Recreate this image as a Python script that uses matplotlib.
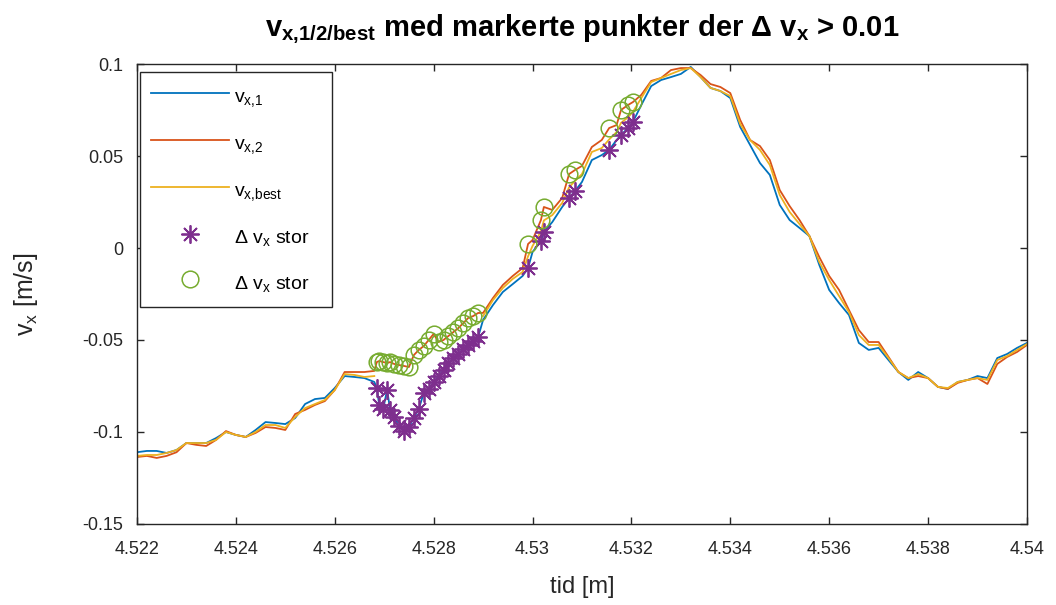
import numpy as np
import matplotlib.pyplot as plt
from matplotlib.ticker import FormatStrFormatter

plt.rcParams['font.family'] = ['Liberation Sans', 'DejaVu Sans']
plt.rcParams['mathtext.fontset'] = 'custom'
plt.rcParams['mathtext.rm'] = 'Liberation Sans'
plt.rcParams['mathtext.it'] = 'Liberation Sans'
plt.rcParams['mathtext.bf'] = 'Liberation Sans:bold'
plt.rcParams['axes.unicode_minus'] = False

# tid [s] og hastigheter vx1, vx2, vx_best
t = np.array([
    4.5220, 4.5222, 4.5224, 4.5226, 4.5228, 4.5230, 4.5232, 4.5234, 4.5236, 4.5238,
    4.5240, 4.5242, 4.5244, 4.5246, 4.5248, 4.5250, 4.5252, 4.5254, 4.5256, 4.5258,
    4.5260, 4.5262, 4.5264, 4.5266, 4.5268,
    4.52685, 4.52690, 4.52698, 4.52706, 4.52712, 4.52720, 4.52730, 4.52740, 4.52750,
    4.52760, 4.52770, 4.52780, 4.52790, 4.52800, 4.52810, 4.52820, 4.52830, 4.52840,
    4.52850, 4.52860, 4.52870, 4.52880, 4.52890,
    4.52900, 4.52920, 4.52940, 4.52960, 4.52980, 4.52991, 4.53000, 4.53017, 4.53023,
    4.53040, 4.53060, 4.53074, 4.53086, 4.53100, 4.53120, 4.53140, 4.53155, 4.53170,
    4.53179, 4.53193, 4.53203, 4.53220,
    4.5324, 4.5326, 4.5328, 4.5330, 4.5332, 4.5334, 4.5336, 4.5338, 4.5340, 4.5342,
    4.5344, 4.5346, 4.5348, 4.5350, 4.5352, 4.5354, 4.5356, 4.5358, 4.5360, 4.5362,
    4.5364, 4.5366, 4.5368, 4.5370, 4.5372, 4.5374, 4.5376, 4.5378, 4.5380, 4.5382,
    4.5384, 4.5386, 4.5388, 4.5390, 4.5392, 4.5394, 4.5396, 4.5398, 4.5400,
])

vx1 = np.array([
    -0.1110, -0.1103, -0.1103, -0.1114, -0.1098, -0.1060, -0.1060, -0.1060, -0.1033, -0.1000,
    -0.1016, -0.1027, -0.0989, -0.0946, -0.0951, -0.0957, -0.0924, -0.0848, -0.0821, -0.0815,
    -0.0761, -0.0696, -0.0701, -0.0707, -0.0728,
    -0.0761, -0.0853, -0.0875, -0.0770, -0.0880, -0.0918, -0.0970, -0.0995, -0.0973,
    -0.0924, -0.0875, -0.0788, -0.0766, -0.0728, -0.0696, -0.0663, -0.0625, -0.0598,
    -0.0576, -0.0549, -0.0527, -0.0505, -0.0484,
    -0.0391, -0.0310, -0.0239, -0.0196, -0.0152, -0.0109, -0.0022, 0.0038, 0.0087,
    0.0141, 0.0223, 0.0272, 0.0310, 0.0359, 0.0478, 0.0505, 0.0533, 0.0587,
    0.0614, 0.0652, 0.0685, 0.0777,
    0.0880, 0.0913, 0.0929, 0.0946, 0.0984, 0.0929, 0.0870, 0.0853, 0.0815, 0.0658,
    0.0560, 0.0462, 0.0397, 0.0234, 0.0152, 0.0109, 0.0065, -0.0092, -0.0228, -0.0299,
    -0.0364, -0.0516, -0.0554, -0.0543, -0.0609, -0.0674, -0.0717, -0.0674, -0.0707, -0.0755,
    -0.0766, -0.0728, -0.0717, -0.0696, -0.0707, -0.0598, -0.0576, -0.0543, -0.0516,
])

vx2 = np.array([
    -0.1136, -0.1130, -0.1141, -0.1130, -0.1110, -0.1060, -0.1070, -0.1076, -0.1043, -0.0995,
    -0.1016, -0.1027, -0.1005, -0.0973, -0.0978, -0.0989, -0.0902, -0.0880, -0.0853, -0.0832,
    -0.0772, -0.0674, -0.0674, -0.0674, -0.0668,
    -0.0620, -0.0614, -0.0620, -0.0625, -0.0620, -0.0630, -0.0636, -0.0641, -0.0647,
    -0.0582, -0.0554, -0.0533, -0.0500, -0.0467, -0.0511, -0.0500, -0.0478, -0.0457,
    -0.0435, -0.0408, -0.0380, -0.0370, -0.0353,
    -0.0353, -0.0272, -0.0201, -0.0152, -0.0109, 0.0022, 0.0043, 0.0152, 0.0223,
    0.0207, 0.0272, 0.0402, 0.0424, 0.0446, 0.0549, 0.0587, 0.0652, 0.0668,
    0.0750, 0.0777, 0.0793, 0.0832,
    0.0908, 0.0924, 0.0967, 0.0978, 0.0978, 0.0940, 0.0891, 0.0875, 0.0842, 0.0696,
    0.0587, 0.0554, 0.0478, 0.0315, 0.0228, 0.0152, 0.0065, -0.0049, -0.0152, -0.0228,
    -0.0337, -0.0446, -0.0511, -0.0511, -0.0592, -0.0674, -0.0707, -0.0696, -0.0707, -0.0755,
    -0.0766, -0.0733, -0.0717, -0.0707, -0.0739, -0.0630, -0.0592, -0.0565, -0.0527,
])

nan = np.nan
vx_best = np.array([
    -0.1130, -0.1125, -0.1125, -0.1114, -0.1098, -0.1060, -0.1060, -0.1060, -0.1043, -0.1000,
    -0.1016, -0.1027, -0.1000, -0.0962, -0.0962, -0.0978, -0.0918, -0.0870, -0.0848, -0.0826,
    -0.0772, -0.0685, -0.0690, -0.0701, -0.0696,
    nan, nan, nan, nan, nan, nan, nan, nan, nan,
    nan, nan, nan, nan, nan, nan, nan, nan, nan,
    nan, nan, nan, nan, nan,
    -0.0370, -0.0283, -0.0217, -0.0168, -0.0130, -0.0045, 0.0011, 0.0090, 0.0150,
    0.0179, 0.0245, 0.0330, 0.0365, 0.0402, 0.0522, 0.0543, 0.0590, 0.0630,
    0.0680, 0.0710, 0.0740, 0.0815,
    0.0902, 0.0924, 0.0946, 0.0967, 0.0978, 0.0929, 0.0870, 0.0853, 0.0826, 0.0674,
    0.0587, 0.0533, 0.0451, 0.0288, 0.0196, 0.0130, 0.0065, -0.0076, -0.0174, -0.0261,
    -0.0348, -0.0473, -0.0527, -0.0527, -0.0598, -0.0674, -0.0707, -0.0685, -0.0707, -0.0755,
    -0.0761, -0.0728, -0.0717, -0.0707, -0.0717, -0.0609, -0.0587, -0.0554, -0.0522,
])

# punkter der forskjellen mellom vx1 og vx2 er stor
stor = np.abs(vx1 - vx2) > 0.01

fig = plt.figure(figsize=(10.56, 6.05), dpi=100)
ax = fig.add_axes([0.1297, 0.1339, 0.8428, 0.7603])

ax.plot(t, vx1, color='#0072BD', lw=1.3, label=r'$\mathrm{v_{x{,}1}}$')
ax.plot(t, vx2, color='#D95319', lw=1.3, label=r'$\mathrm{v_{x{,}2}}$')
ax.plot(t, vx_best, color='#EDB120', lw=1.3, label=r'$\mathrm{v_{x{,}best}}$')
ax.plot(t[stor], vx1[stor], ls='none', marker=(8, 2, 0), ms=13, mew=1.3,
        color='#7E2F8E', label=r'Δ $\mathrm{v_x}$ stor   ')
ax.plot(t[stor], vx2[stor], ls='none', marker='o', ms=12, mew=1.1,
        mfc='none', color='#77AC30', label=r'Δ $\mathrm{v_x}$ stor   ')

ax.set_xlim(4.522, 4.54)
ax.set_ylim(-0.15, 0.1)
ax.set_xticks(np.arange(4.522, 4.5401, 0.002))
ax.set_yticks([-0.15, -0.1, -0.05, 0, 0.05, 0.1])
ax.xaxis.set_major_formatter(FormatStrFormatter('%g'))
ax.yaxis.set_major_formatter(FormatStrFormatter('%g'))

ax.tick_params(direction='in', top=True, right=True, length=5, width=1,
               colors='#262626', labelsize=13)
ax.tick_params(axis='x', pad=12)
ax.tick_params(axis='y', pad=10)
for s in ax.spines.values():
    s.set_color('#262626')
    s.set_linewidth(1)

ax.set_xlabel('tid [m]', fontsize=17, color='#262626', labelpad=13)
ax.set_ylabel(r'$\mathrm{v_x}$ [m/s]', fontsize=18, color='#262626', labelpad=30)
ax.set_title(r'$\mathbf{v_{x{,}1/2/best}}$ med markerte punkter der Δ $\mathbf{v_x}$ > 0.01',
             fontsize=21, fontweight='bold', color='black', pad=20)

leg = ax.legend(loc='upper left', bbox_to_anchor=(0.003, 0.983), borderaxespad=0,
                fontsize=14, numpoints=1, handlelength=4.0, handletextpad=0.25,
                handleheight=1.6, labelspacing=1.08, borderpad=0.6,
                fancybox=False, framealpha=1, edgecolor='#262626')
leg.get_frame().set_linewidth(1)

fig.savefig('out.png', dpi=100, facecolor='white')
